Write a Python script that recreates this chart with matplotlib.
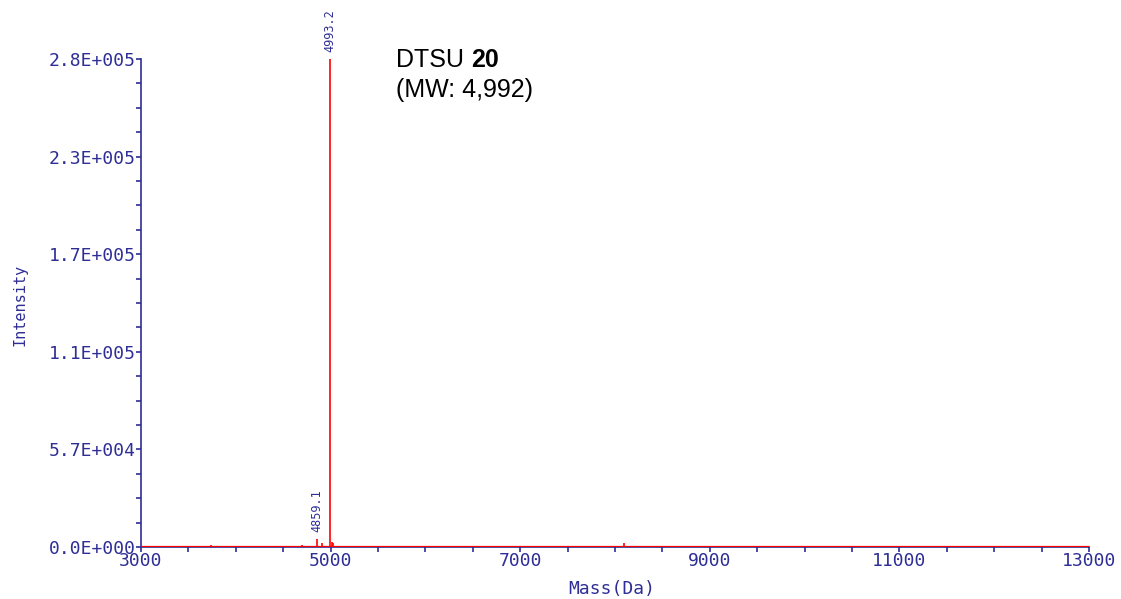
import matplotlib

matplotlib.use("Agg")
import matplotlib.pyplot as plt
from matplotlib.ticker import MultipleLocator

# %% data
peak_mass = [3740, 4700, 4859.1, 4905, 4993.2, 5012, 5022, 8090]
peak_int = [1200, 1300, 4800, 2200, 284000, 3200, 2600, 2300]
labelled = [4859.1, 4993.2]

x_ticks = [3000, 5000, 7000, 9000, 11000, 13000]
y_max = 284000
y_ticks = [0, 0.2 * y_max, 0.4 * y_max, 0.6 * y_max, 0.8 * y_max, y_max]
y_ticklabels = ["0.0E+000", "5.7E+004", "1.1E+005", "1.7E+005", "2.3E+005", "2.8E+005"]

# %% style
navy = "#2e2e96"
red = "#ff0000"
mono = "DejaVu Sans Mono"

fig = plt.figure(figsize=(11.21, 5.99), dpi=100)
ax = fig.add_axes([141 / 1121, 52 / 599, 948 / 1121, 488 / 599])

ax.axhline(0, color=red, lw=1.6, zorder=3)
ax.vlines(peak_mass, 0, peak_int, color=red, lw=1.2, zorder=3)

for m, h in zip(peak_mass, peak_int):
    if m in labelled:
        ax.annotate(f"{m:.1f}", xy=(m, h), xytext=(0, 5), textcoords="offset points",
                    rotation=90, ha="center", va="bottom", fontsize=8.5,
                    family=mono, color=navy, annotation_clip=False)

ax.set_xlim(3000, 13000)
ax.set_ylim(0, y_max)
ax.set_xticks(x_ticks)
ax.xaxis.set_minor_locator(MultipleLocator(500))
ax.set_yticks(y_ticks)
ax.set_yticklabels(y_ticklabels)
ax.yaxis.set_minor_locator(MultipleLocator(y_max / 20))

for side in ("top", "right"):
    ax.spines[side].set_visible(False)
for side in ("left", "bottom"):
    ax.spines[side].set_color(navy)
    ax.spines[side].set_linewidth(1.2)

ax.tick_params(which="both", direction="out", color=navy, length=3.6, width=1.2,
               labelcolor=navy, labelsize=13, pad=0)
for lab in ax.get_xticklabels() + ax.get_yticklabels():
    lab.set_family(mono)

ax.set_xlabel("Mass(Da)", family=mono, fontsize=13, color=navy, va="center")
ax.xaxis.set_label_coords(0.497, -0.086)
ax.set_ylabel("Intensity", family=mono, fontsize=11, color=navy, va="center")
ax.yaxis.set_label_coords(-0.1276, 0.496)

t1 = fig.text(396 / 1121, 1 - 67 / 599, "DTSU ", family="Liberation Sans",
              fontsize=18, color="black", va="baseline", ha="left")
ax.annotate("20", xy=(1, 0), xycoords=t1, va="bottom", ha="left",
            family="Liberation Sans", fontsize=18, fontweight="bold", color="black")
fig.text(396 / 1121, 1 - 97 / 599, "(MW: 4,992)", family="Liberation Sans",
         fontsize=18, color="black", va="baseline", ha="left")

fig.savefig("out.png", dpi=100)
